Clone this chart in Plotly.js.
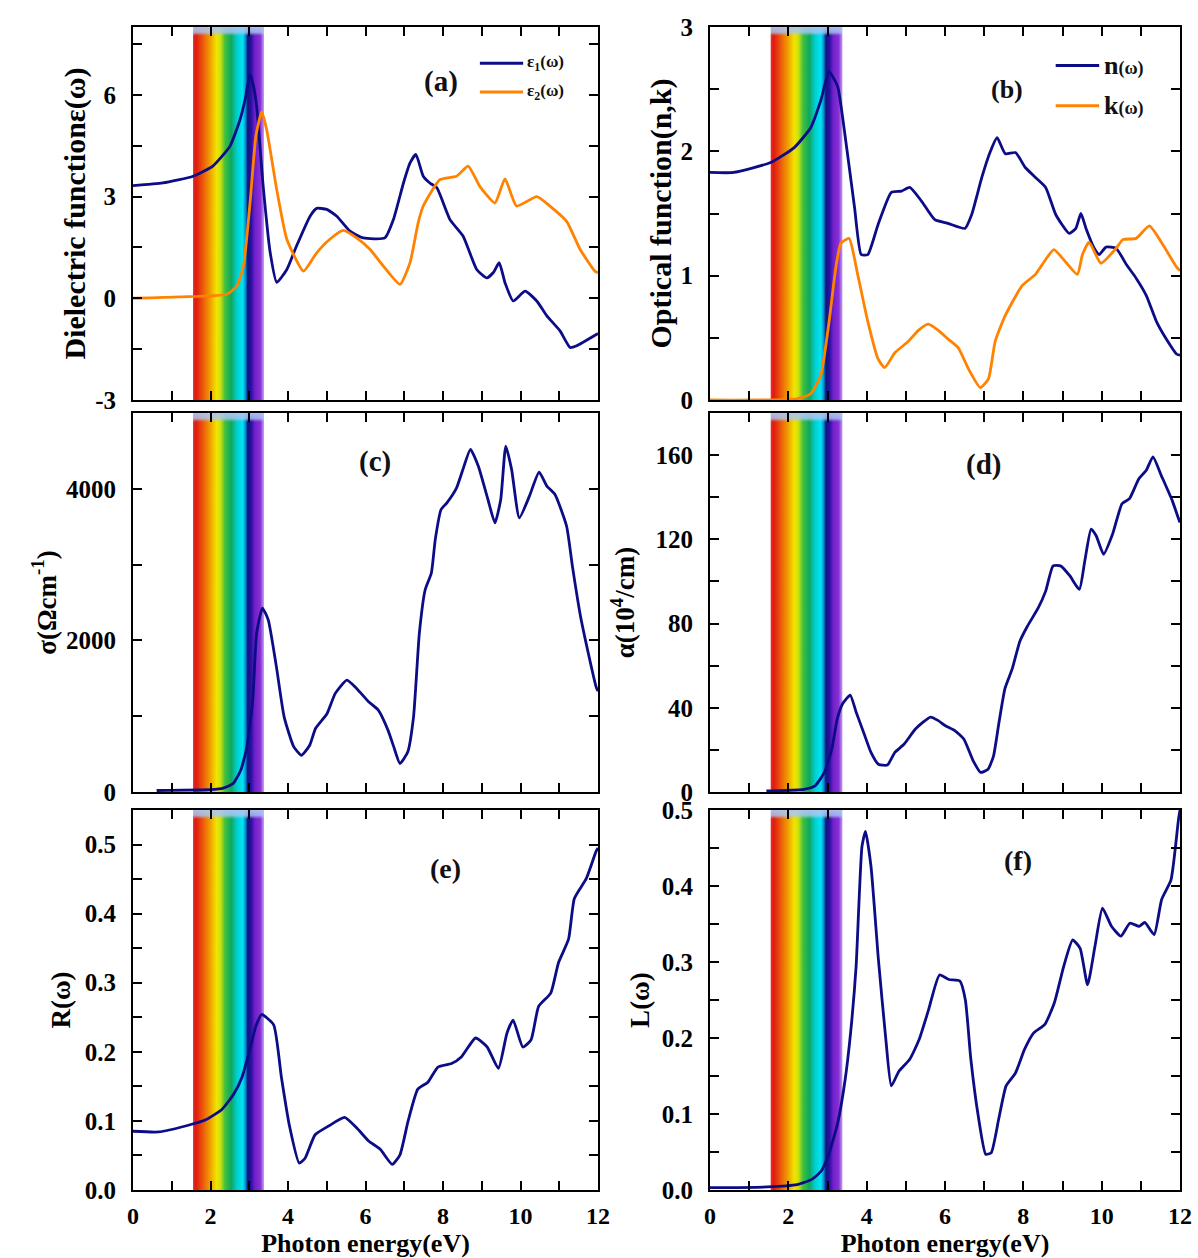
<!DOCTYPE html>
<html><head><meta charset="utf-8">
<script src="https://cdn.plot.ly/plotly-3.0.1.min.js"></script>
<style>html,body{margin:0;padding:0;background:#fff}#chart{width:1198px;height:1258px}</style>
</head><body><div id="chart"></div>
<script>
// ---------- data ----------
const eps1E = [0,0.77,1.55,2.06,2.5,2.76,2.9,3.02,3.1,3.19,3.36,3.54,3.71,3.97,4.22,4.57,4.74,5.0,5.26,5.6,5.94,6.5,6.72,6.98,7.15,7.3,7.49,7.66,7.84,8.18,8.52,8.87,9.13,9.3,9.45,9.6,9.81,10.12,10.42,10.68,11.02,11.28,11.45,11.97,12];
const eps1  = [3.32,3.4,3.6,3.9,4.48,5.26,5.9,6.6,6.3,5.66,3.3,1.35,0.47,0.85,1.54,2.42,2.65,2.62,2.42,1.98,1.78,1.78,2.32,3.4,3.99,4.24,3.6,3.4,3.26,2.32,1.83,0.85,0.6,0.76,1.05,0.46,-0.08,0.21,-0.08,-0.52,-0.96,-1.45,-1.4,-1.06,-1.04];
const eps2E = [0,1.2,2.42,2.68,2.85,3.02,3.17,3.32,3.45,3.71,3.97,4.4,4.74,5.08,5.43,5.77,6.12,6.46,6.89,7.15,7.36,7.49,7.92,8.35,8.65,8.95,9.34,9.6,9.9,10.42,10.76,11.19,11.54,11.92,12];
const eps2  = [0.0,0.04,0.12,0.36,0.95,2.81,4.77,5.5,4.97,3.2,1.74,0.8,1.34,1.74,2.0,1.78,1.44,0.95,0.41,1.05,2.23,2.72,3.5,3.6,3.9,3.3,2.81,3.52,2.72,3.0,2.72,2.27,1.44,0.8,0.75];

const nE = [0,0.6,1.55,2.15,2.57,2.83,3.04,3.26,3.43,3.69,3.86,4.03,4.29,4.63,4.89,5.1,5.4,5.74,6.08,6.51,6.68,6.94,7.16,7.33,7.54,7.8,8.05,8.31,8.57,8.83,9.17,9.34,9.47,9.6,9.81,9.94,10.11,10.37,10.63,10.88,11.14,11.4,11.65,11.91,12];
const nVals = [1.83,1.83,1.91,2.03,2.19,2.41,2.64,2.52,2.17,1.55,1.17,1.17,1.41,1.67,1.68,1.71,1.6,1.45,1.42,1.38,1.49,1.79,2.0,2.11,1.98,1.99,1.87,1.79,1.71,1.49,1.34,1.38,1.5,1.38,1.22,1.17,1.23,1.22,1.09,0.98,0.84,0.63,0.49,0.37,0.36];
const kE = [0,2.22,2.57,2.83,3.04,3.21,3.34,3.55,3.77,4.03,4.29,4.46,4.72,5.06,5.32,5.57,5.83,6.08,6.34,6.6,6.9,7.11,7.28,7.54,7.97,8.31,8.57,8.78,9.08,9.38,9.51,9.68,9.98,10.37,10.54,10.88,11.22,11.56,11.91,12];
const kVals = [0,0.01,0.05,0.2,0.63,1.06,1.26,1.3,1.01,0.63,0.33,0.26,0.38,0.47,0.56,0.61,0.56,0.49,0.42,0.25,0.1,0.17,0.47,0.68,0.92,1.01,1.13,1.21,1.11,1.01,1.17,1.27,1.1,1.22,1.29,1.3,1.4,1.25,1.07,1.04];

const sigmaE = [0.61,2.28,2.58,2.78,2.94,3.09,3.19,3.34,3.49,3.7,3.9,4.15,4.35,4.56,4.71,5.01,5.22,5.52,5.77,6.08,6.33,6.58,6.73,6.89,7.09,7.24,7.39,7.54,7.7,7.8,7.95,8.1,8.35,8.5,8.71,8.91,9.16,9.34,9.49,9.62,9.77,9.97,10.23,10.48,10.68,10.89,11.19,11.34,11.55,11.75,11.95,12];
const sigma  = [20,44,110,287,595,1213,2095,2425,2271,1654,992,595,485,617,838,1036,1301,1477,1367,1191,1080,816,595,375,529,992,2095,2668,2889,3330,3727,3815,4013,4234,4520,4300,3859,3550,3859,4564,4256,3616,3903,4220,4035,3925,3506,2977,2315,1830,1389,1330];

const alphaE = [1.44,2.4,2.68,2.92,3.11,3.25,3.39,3.58,3.73,3.92,4.11,4.3,4.53,4.72,4.96,5.25,5.63,5.82,6.0,6.25,6.48,6.72,6.91,7.1,7.24,7.38,7.53,7.72,7.91,8.1,8.38,8.57,8.76,8.95,9.19,9.43,9.57,9.73,9.86,10.05,10.28,10.52,10.71,10.95,11.14,11.31,11.52,11.8,11.95,12];
const alpha  = [0.5,1.3,2.9,9.3,20.4,34.8,42,46,38,28.4,18.8,13.2,12.8,18.8,22.8,30,35.6,34,31.6,29.2,25.2,14.8,9.3,10.8,17.2,33.2,49.1,58.7,71.5,78.6,87.4,95.4,107.4,107.4,102.6,96.2,109.8,124.9,121.7,112.9,122.5,136.9,139.3,148.8,152.8,159.2,150.4,138.5,130.5,128];

const RE = [0,0.66,1.38,1.89,2.3,2.6,2.81,3.01,3.17,3.32,3.63,3.83,4.03,4.29,4.44,4.7,5.06,5.46,5.77,6.08,6.38,6.69,6.89,7.1,7.35,7.61,7.87,8.22,8.48,8.84,9.14,9.43,9.65,9.81,10.06,10.27,10.47,10.78,10.98,11.24,11.39,11.7,11.95,12];
const RVals = [0.085,0.084,0.093,0.102,0.117,0.139,0.163,0.202,0.237,0.254,0.239,0.163,0.095,0.039,0.046,0.08,0.093,0.105,0.09,0.071,0.059,0.037,0.051,0.1,0.146,0.156,0.178,0.183,0.193,0.22,0.207,0.176,0.227,0.246,0.207,0.217,0.266,0.285,0.329,0.363,0.422,0.451,0.49,0.495];

const LE = [0,1.46,2.22,2.6,2.84,3.02,3.26,3.45,3.59,3.73,3.88,3.97,4.11,4.3,4.49,4.63,4.82,5.1,5.34,5.58,5.86,6.1,6.38,6.52,6.66,6.85,7.04,7.18,7.37,7.56,7.8,8.03,8.27,8.55,8.79,9.03,9.26,9.45,9.64,9.83,10.02,10.25,10.49,10.72,10.96,11.1,11.34,11.53,11.77,11.96,12];
const LVals = [0.003,0.004,0.007,0.014,0.025,0.045,0.088,0.145,0.207,0.294,0.452,0.472,0.426,0.303,0.198,0.137,0.156,0.172,0.198,0.237,0.283,0.277,0.275,0.25,0.172,0.097,0.047,0.049,0.093,0.137,0.154,0.185,0.207,0.218,0.246,0.294,0.329,0.318,0.27,0.321,0.371,0.347,0.334,0.351,0.347,0.352,0.336,0.382,0.408,0.487,0.5];

// visible-light band (eV)
const bandStart = 1.55, bandEnd = 3.38;

const panelLabels = ['(a)','(b)','(c)','(d)','(e)','(f)'];
const yTitles = ['Dielectric functionε(ω)','Optical function(n,k)','σ(Ωcm<sup>-1</sup>)','α(10<sup>4</sup>/cm)','R(ω)','L(ω)'];
const xTitle = 'Photon energy(eV)';
const yRanges = [[-3,8],[0,3],[0,5000],[0,180],[0,0.55],[0,0.5]];
const yDticks = [3,1,2000,40,0.1,0.1];
const yMinor  = [1.5,0.5,1000,20,0.05,0.05];
const epsTickVals = [-3,0,3,6];
const epsTickText = ['-3','0','3','6'];

// ---------- styling ----------
const F = '"Liberation Serif","Times New Roman",Times,serif';
const BLUE = '#0c0c86', ORANGE = '#ff8200';
const W = 1198, H = 1258;
const colX = [[133/W, 598/W],[710/W, 1180/W]];
const rowY = [[1-400/H, 1-27/H],[1-792/H, 1-413/H],[1-1190/H, 1-810/H]];

function makeBand(){
  const c = document.createElement('canvas'); c.width = 300; c.height = 600;
  const g = c.getContext('2d');
  const gr = g.createLinearGradient(0,0,300,0);
  [[0,'#e8302a'],[0.04,'#e01a10'],[0.14,'#ec5a0c'],[0.24,'#f0a000'],[0.33,'#f2e400'],[0.39,'#c8e010'],
   [0.45,'#40c040'],[0.54,'#10a860'],[0.62,'#00d0d0'],[0.70,'#00e4f4'],[0.74,'#0090d0'],[0.77,'#14147a'],
   [0.82,'#2a10a4'],[0.87,'#7020c8'],[0.95,'#8a30d8'],[1,'#c0a0f0']].forEach(s=>gr.addColorStop(s[0],s[1]));
  g.fillStyle = gr; g.fillRect(0,0,300,600);
  const top = g.createLinearGradient(0,0,0,14);
  top.addColorStop(0,'rgba(170,200,245,0.95)'); top.addColorStop(0.6,'rgba(170,200,245,0.8)'); top.addColorStop(1,'rgba(170,200,245,0)');
  g.fillStyle = top; g.fillRect(0,0,300,14);
  return c.toDataURL('image/png');
}
const band = makeBand();

const tickFont = {family:F, size:25, color:'#000', weight:'bold'};
const xTickFont = {family:F, size:24, color:'#000', weight:'bold'};
function xAxis(col,row,idx){
  const bottom = row===2;
  const a = {domain:colX[col], anchor:'y'+(idx===1?'':idx), range:[0,12], tick0:0, dtick:2,
    ticks:'inside', ticklen:9, tickwidth:2, tickcolor:'#000', showline:true, linewidth:2, linecolor:'#000',
    mirror:'ticks', showgrid:false, zeroline:false, showticklabels:bottom, tickfont:xTickFont,
    ticklabelstandoff:3, automargin:false, fixedrange:true,
    minor:{dtick:1, ticks:'inside', ticklen:9, tickwidth:2, tickcolor:'#000', showgrid:false}};
  if(bottom) a.title = {text:xTitle, font:{family:F,size:26,color:'#000',weight:'bold'}, standoff:0};
  return a;
}
const yStandoff = [1,0,2,13,6,4];
const yTitleSize = [30,30,27,27,27,27];
function yAxis(col,row,idx){
  const i = idx-1;
  const a = {domain:rowY[row], anchor:'x'+(idx===1?'':idx), range:yRanges[i], tick0:0, dtick:yDticks[i],
    tickformat: (i>=4?'.1f':''),
    ticks:'inside', ticklen:9, tickwidth:2, tickcolor:'#000', showline:true, linewidth:2, linecolor:'#000',
    mirror:'ticks', showgrid:false, zeroline:false, tickfont:tickFont, ticklabelstandoff:10,
    automargin:false, fixedrange:true,
    minor:{dtick:yMinor[i], tick0:0, ticks:'inside', ticklen:9, tickwidth:2, tickcolor:'#000', showgrid:false},
    title:{text:yTitles[i], font:{family:F,size:yTitleSize[i],color:'#000',weight:'bold'}, standoff:yStandoff[i]}};
  if(i===0){ a.tickmode='array'; a.tickvals=epsTickVals; a.ticktext=epsTickText; }
  return a;
}

const layout = {width:W, height:H, margin:{l:0,r:0,t:0,b:0}, paper_bgcolor:'#fff', plot_bgcolor:'#fff',
  showlegend:false, font:{family:F,color:'#000'}, images:[], annotations:[], shapes:[]};
const cells = [[0,0],[1,0],[0,1],[1,1],[0,2],[1,2]];
cells.forEach((c,k)=>{
  const idx = k+1, s = idx===1?'':idx;
  layout['xaxis'+s] = xAxis(c[0],c[1],idx);
  layout['yaxis'+s] = yAxis(c[0],c[1],idx);
  layout.images.push({source:band, xref:'x'+s, yref:'y'+s+' domain', x:bandStart, y:1,
    sizex:bandEnd-bandStart, sizey:1, sizing:'stretch', xanchor:'left', yanchor:'top', layer:'below'});
});

const labelPos = [[0.662,0.853,29],[0.632,0.832,26],[0.52,0.871,29],[0.582,0.865,29],[0.673,0.845,28],[0.655,0.866,28]];
labelPos.forEach((p,k)=>{
  const s = k===0?'':(k+1);
  layout.annotations.push({xref:'x'+s+' domain', yref:'y'+s+' domain', x:p[0], y:p[1], text:'<b>'+panelLabels[k]+'</b>',
    showarrow:false, font:{family:F,size:p[2],color:'#111'}, xanchor:'center', yanchor:'middle'});
});

// legend keys for (a) and (b)
function legendKey(s, x0, x1, y, color, text, size){
  layout.shapes.push({type:'line', xref:'x'+s+' domain', yref:'y'+s+' domain', x0:x0, x1:x1, y0:y, y1:y, line:{color:color,width:3}});
  layout.annotations.push({xref:'x'+s+' domain', yref:'y'+s+' domain', x:x1+0.005, y:y, text:text, showarrow:false,
    xanchor:'left', yanchor:'middle', font:{family:F,size:size,color:'#111'}});
}
legendKey('', 0.746, 0.839, 0.903, BLUE, '<b>ε<sub>1</sub>(ω)</b>', 17);
legendKey('', 0.746, 0.839, 0.826, ORANGE, '<b>ε<sub>2</sub>(ω)</b>', 17);
legendKey('2', 0.7355, 0.828, 0.897, BLUE, '<b>n<span style="font-size:18px">(ω)</span></b>', 26);
legendKey('2', 0.7355, 0.828, 0.789, ORANGE, '<b>k<span style="font-size:18px">(ω)</span></b>', 26);

function line(x, y, ax, color, name){
  return {type:'scatter', mode:'lines', x:x, y:y, xaxis:'x'+ax, yaxis:'y'+ax, name:name,
    line:{color:color, width:2.8, shape:'spline', smoothing:0.5}, hoverinfo:'x+y'};
}
const traces = [
  line(eps1E, eps1, '', BLUE, 'ε1(ω)'),
  line(eps2E, eps2, '', ORANGE, 'ε2(ω)'),
  line(nE, nVals, '2', BLUE, 'n(ω)'),
  line(kE, kVals, '2', ORANGE, 'k(ω)'),
  line(sigmaE, sigma, '3', BLUE, 'σ'),
  line(alphaE, alpha, '4', BLUE, 'α'),
  line(RE, RVals, '5', BLUE, 'R(ω)'),
  line(LE, LVals, '6', BLUE, 'L(ω)')
];
Plotly.newPlot('chart', traces, layout, {displayModeBar:false, staticPlot:true});
</script>
</body></html>
